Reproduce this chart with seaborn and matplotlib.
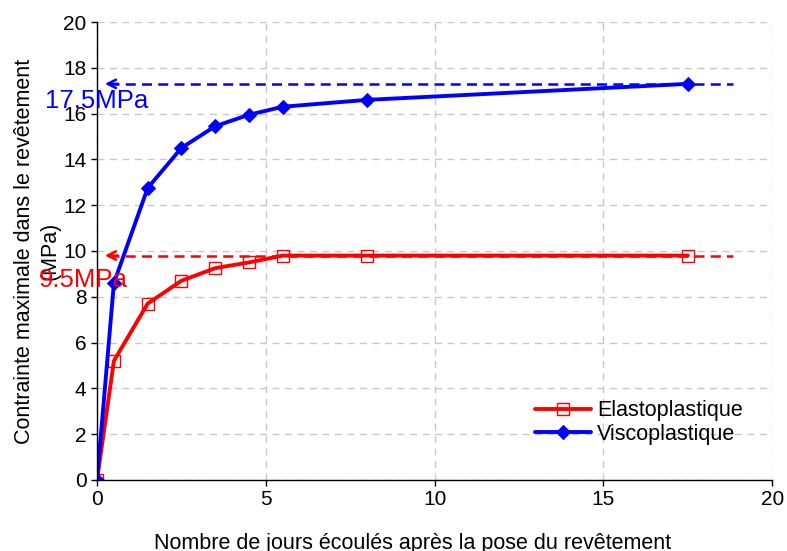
import pandas as pd
import matplotlib.pyplot as plt
import seaborn as sns

# values
jours = [0, 0.5, 1.5, 2.5, 3.5, 4.5, 5.5, 8, 17.5]
elasto = [0, 5.2, 7.7, 8.7, 9.25, 9.5, 9.8, 9.8, 9.8]
visco = [0, 8.6, 12.75, 14.5, 15.45, 15.95, 16.3, 16.6, 17.3]
niveau_visco = 17.3
niveau_elasto = 9.8
label_visco = "17.5MPa"
label_elasto = "9.5MPa"

df = pd.DataFrame({"jours": jours, "Elastoplastique": elasto, "Viscoplastique": visco})

sns.set_style("white")
plt.rcParams['font.family'] = ['Liberation Sans', 'DejaVu Sans']
plt.rcParams['text.color'] = 'black'
plt.rcParams['axes.labelcolor'] = 'black'

fig = plt.figure(figsize=(7.87, 5.51), dpi=100)
ax = fig.add_axes([0.1233, 0.129, 0.858, 0.831])

sns.lineplot(data=df, x="jours", y="Elastoplastique", ax=ax, color="#ff0000", lw=2.8,
             marker="s", markersize=8, markerfacecolor="none", markeredgecolor="#ff0000",
             markeredgewidth=1.0, label="Elastoplastique")
sns.lineplot(data=df, x="jours", y="Viscoplastique", ax=ax, color="#0000ff", lw=2.8,
             marker="D", markersize=7.5, markerfacecolor="#0000ff", markeredgecolor="#0000ff",
             label="Viscoplastique")

# dashed reference levels with arrow heads
for y, c in [(niveau_visco, "#0000ff"), (niveau_elasto, "#ff0000")]:
    ax.plot([0.35, 18.85], [y, y], color=c, lw=1.8, ls=(0, (4, 2.5)), zorder=1)
    ax.annotate("", xy=(0.15, y), xytext=(0.7, y),
                arrowprops=dict(arrowstyle="->", color=c, lw=1.8, mutation_scale=15))

ax.text(0.0, 16.55, label_visco, color="#0000ff", fontsize=18.5, ha="center", va="center")
ax.text(-0.4, 8.75, label_elasto, color="#ff0000", fontsize=18.5, ha="center", va="center")

ax.set_xlim(0, 20)
ax.set_ylim(0, 20)
ax.set_xticks(range(0, 21, 5))
ax.set_yticks(range(0, 21, 2))
ax.tick_params(labelsize=15, labelcolor="black", direction="out", length=4, width=1,
               color="black", left=True, bottom=True)
ax.grid(True, color="#c8c8c8", ls=(0, (5, 4)), lw=1)
for s in ["top", "right"]:
    ax.spines[s].set_visible(False)
for s in ["left", "bottom"]:
    ax.spines[s].set_color("black")
    ax.spines[s].set_linewidth(1)

ax.set_xlabel("Nombre de jours écoulés après la pose du revêtement", fontsize=15.5)
ax.xaxis.set_label_coords(0.468, -0.115)
ax.set_ylabel("Contrainte maximale dans le revêtement\n(MPa)", fontsize=15.5,
              linespacing=1.25, labelpad=2)

ax.legend(loc="lower right", bbox_to_anchor=(0.985, 0.035), frameon=False, fontsize=15.5,
          handlelength=2.6, handletextpad=0.3, labelspacing=0.1)

fig.savefig("out.png", dpi=100)
